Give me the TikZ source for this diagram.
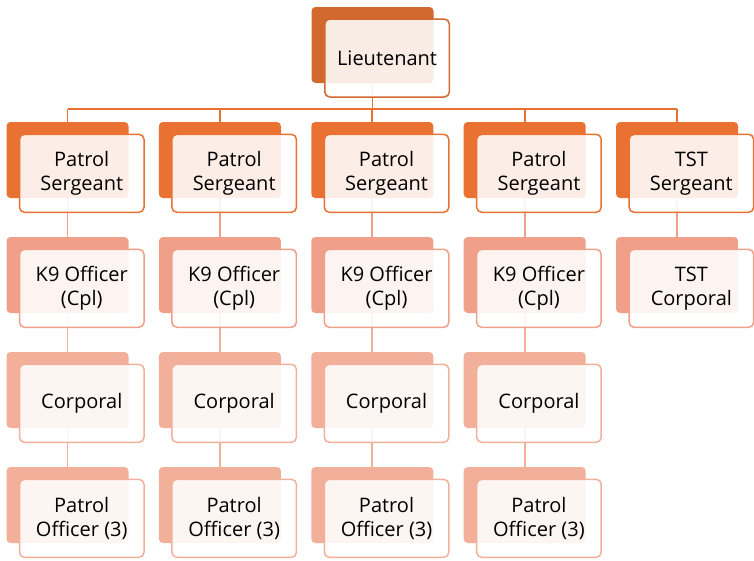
\documentclass[tikz,border=0pt]{standalone}
\usepackage{fontspec}
\setmainfont{Open Sans}
\usetikzlibrary{backgrounds}
\definecolor{cLt}{HTML}{D2692F}
\definecolor{cSg}{HTML}{E97132}
\definecolor{cK9}{HTML}{F0A088}
\definecolor{cCp}{HTML}{F2B09B}
\begin{document}
\begin{tikzpicture}[x=1pt,y=-1pt,
 backbox/.style={draw=none, fill=#1, rounded corners=4pt, minimum width=122pt, minimum height=76pt, inner sep=0pt, outer sep=0pt, anchor=north west},
 frontbox/.style={draw=#1, line width=1.5pt, fill=white, fill opacity=0.88, text opacity=1, rounded corners=5pt, minimum width=124.5pt, minimum height=78pt, inner sep=0pt, outer sep=0pt, anchor=north west, align=center, font=\fontsize{20}{24}\selectfont},
 link/.style={draw=#1, line width=1.8pt}]
\useasboundingbox (0,0) rectangle (754,560);
% Lieutenant
\node[backbox=cLt] (bL) at (311.5,7) {};
\node[frontbox=cLt] (fL) at (324.8,19) {Lieutenant};
% patrol columns
\foreach \i/\x in {1/6.5,2/158.9,3/311.3,4/463.7} {
  \node[backbox=cSg] (bS\i) at (\x,122) {};
  \node[frontbox=cSg] (fS\i) at (\x+13,134.3) {Patrol\\Sergeant};
  \node[backbox=cK9] (bK\i) at (\x,237) {};
  \node[frontbox=cK9] (fK\i) at (\x+13,249.3) {K9 Officer\\(Cpl)};
  \node[backbox=cCp] (bC\i) at (\x,352) {};
  \node[frontbox=cCp] (fC\i) at (\x+13,364.3) {Corporal};
  \node[backbox=cCp] (bP\i) at (\x,467) {};
  \node[frontbox=cCp] (fP\i) at (\x+13,479.3) {Patrol\\Officer (3)};
}
% TST column
\node[backbox=cSg] (bS5) at (616.1,122) {};
\node[frontbox=cSg] (fS5) at (629.1,134.3) {TST\\Sergeant};
\node[backbox=cK9] (bT5) at (616.1,237) {};
\node[frontbox=cK9] (fT5) at (629.1,249.3) {TST\\Corporal};
\coordinate (hub) at (372.3,109);
\begin{pgfonlayer}{background}
  \draw[link=cSg] (bL.south) -- (bL.south |- hub);
  \draw[link=cSg] (bS1.north |- hub) -- (bS5.north |- hub);
  \foreach \i in {1,...,5} {
    \draw[link=cSg] (bS\i.north |- hub) -- (bS\i.north);
  }
  \foreach \i in {1,...,4} {
    \draw[link=cK9] (bS\i.south) -- (bK\i.north);
    \draw[link=cCp] (bK\i.south) -- (bC\i.north);
    \draw[link=cCp] (bC\i.south) -- (bP\i.north);
  }
  \draw[link=cK9] (bS5.south) -- (bT5.north);
\end{pgfonlayer}
\end{tikzpicture}
\end{document}
